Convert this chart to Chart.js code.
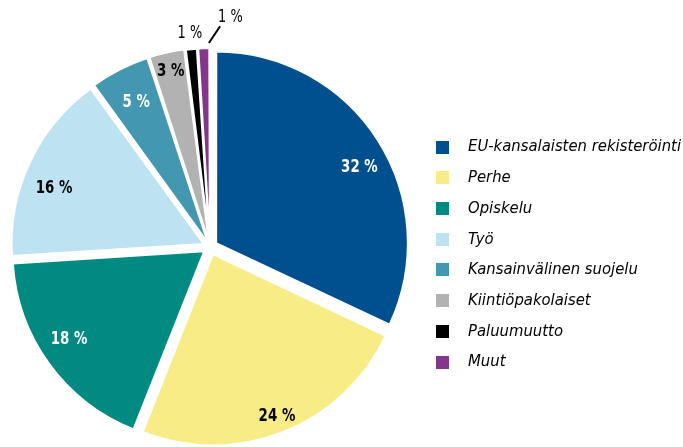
<!DOCTYPE html>
<html>
<head>
<meta charset="utf-8">
<script src="https://cdn.jsdelivr.net/npm/chart.js@4/dist/chart.umd.min.js"></script>
<style>
  html, body { margin: 0; padding: 0; background: #fff; }
  #wrap { width: 683px; height: 447px; }
</style>
</head>
<body>
<div id="wrap"><canvas id="pie"></canvas></div>
<script>
const categories = ['EU-kansalaisten rekisteröinti', 'Perhe', 'Opiskelu', 'Työ', 'Kansainvälinen suojelu', 'Kiintiöpakolaiset', 'Paluumuutto', 'Muut'];
const shares = [32, 24, 18, 16, 5, 3, 1, 1];
const sliceColors = ['#00508f', '#f8ec87', '#008a82', '#bde3f2', '#4397b0', '#b2b2b2', '#000000', '#83368c'];
const labelColors = ['#fff', '#000', '#fff', '#000', '#fff', '#000', '#000', '#000'];
// chart.js divides the offset by 4 and pushes thin slices further, so these all give ~8px
const sliceOffsets = [29, 32, 29, 28, 19, 18, 16, 16];
// where the inside labels sit: share of the radius, and a small turn in degrees
const labelDistance = [0.845, 0.91, 0.84, 0.83, 0.81, 0.9];
const labelTurn = [4.5, 0, 3, -5, 0, 0];

const narrow = "'Liberation Sans Narrow', 'DejaVu Sans Condensed', sans-serif";

// little coloured squares for the legend, drawn as point style images
const legendSquares = sliceColors.map(c => {
    const cv = document.createElement('canvas');
    cv.width = 13;
    cv.height = 13;
    const g = cv.getContext('2d');
    g.fillStyle = c;
    g.fillRect(0, 0, 13, 13);
    return cv;
});

// condensed look: squeeze the text sideways
function squeezedText(ctx, txt, x, y, sx) {
    ctx.save();
    ctx.translate(x, y);
    ctx.scale(sx, 1);
    ctx.fillText(txt, 0, 0);
    ctx.restore();
}

// percentage labels drawn on / next to the slices
const sliceLabels = {
    id: 'sliceLabels',
    afterDatasetsDraw(chart) {
        const ctx = chart.ctx;
        const meta = chart.getDatasetMeta(0);
        ctx.save();
        ctx.textAlign = 'center';
        ctx.textBaseline = 'middle';
        meta.data.forEach((arc, i) => {
            const p = arc.getProps(['x', 'y', 'startAngle', 'endAngle', 'outerRadius']);
            const mid = (p.startAngle + p.endAngle) / 2;
            const R = p.outerRadius;
            const txt = shares[i] + ' %';
            const at = (a, d) => [p.x + Math.cos(a) * d, p.y + Math.sin(a) * d];
            if (i < labelDistance.length) {
                const cx = p.x + Math.cos(mid) * 8;
                const cy = p.y + Math.sin(mid) * 8;
                const a = mid + labelTurn[i] * Math.PI / 180;
                const r = R * labelDistance[i];
                ctx.font = 'bold 17.5px ' + narrow;
                ctx.fillStyle = labelColors[i];
                squeezedText(ctx, txt, cx + Math.cos(a) * r, cy + Math.sin(a) * r, 0.85);
            } else if (i === shares.length - 1) {
                ctx.font = '17.5px ' + narrow;
                ctx.fillStyle = '#000';
                const a = at(mid + 0.026, R + 13);
                const b = at(mid + 0.077, R + 30);
                ctx.strokeStyle = '#000';
                ctx.lineWidth = 2;
                ctx.beginPath();
                ctx.moveTo(a[0], a[1]);
                ctx.lineTo(b[0], b[1]);
                ctx.stroke();
                const t = at(mid + 0.12, R + 39);
                squeezedText(ctx, txt, t[0], t[1], 0.82);
            } else {
                ctx.font = '17.5px ' + narrow;
                ctx.fillStyle = '#000';
                const t = at(mid, R + 23);
                squeezedText(ctx, txt, t[0], t[1], 0.82);
            }
        });
        ctx.restore();
    }
};

const pie = new Chart(document.getElementById('pie').getContext('2d'), {
    type: 'pie',
    data: {
        labels: categories,
        datasets: [{
            data: shares,
            backgroundColor: sliceColors,
            borderColor: '#fff',
            borderWidth: 2,
            offset: sliceOffsets,
            hoverOffset: 0,
            radius: 191
        }]
    },
    options: {
        responsive: true,
        maintainAspectRatio: false,
        animation: false,
        events: [],
        layout: {
            padding: { top: 47, bottom: 0, left: 9, right: -8 }
        },
        plugins: {
            legend: {
                position: 'right',
                title: { display: true, text: '', padding: { top: 8, bottom: 0 }, font: { size: 6 } },
                labels: {
                    usePointStyle: true,
                    pointStyleWidth: 34.5,
                    boxHeight: 13,
                    padding: 14.2,
                    color: '#000',
                    font: { family: narrow, size: 16.5, style: 'italic' },
                    generateLabels(chart) {
                        return categories.map((c, i) => ({
                            text: c,
                            fillStyle: sliceColors[i],
                            strokeStyle: sliceColors[i],
                            fontColor: '#000',
                            lineWidth: 0,
                            pointStyle: legendSquares[i],
                            hidden: false,
                            index: i
                        }));
                    }
                }
            },
            tooltip: { enabled: false }
        }
    },
    plugins: [sliceLabels]
});
</script>
</body>
</html>
